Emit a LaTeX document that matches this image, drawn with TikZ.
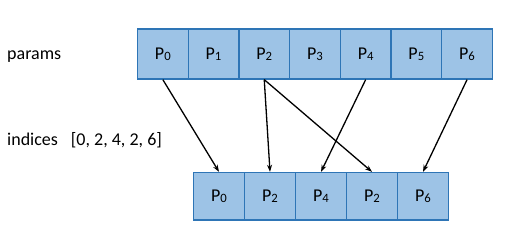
\documentclass[tikz,border=0pt]{standalone}
\usepackage{fontspec}
\setmainfont{Carlito}
\usetikzlibrary{arrows.meta}
\definecolor{cellfill}{HTML}{9DC3E6}
\definecolor{celledge}{HTML}{2E75B6}
\newcommand{\Pcell}[1]{P{\fontsize{12.7}{13}\selectfont\raisebox{-1.3pt}{#1}}}
\begin{document}
\begin{tikzpicture}[x=1pt,y=-1pt,
  cell/.style={draw=celledge,fill=cellfill,line width=1.3pt,inner sep=0pt,
    font=\fontsize{18}{21}\selectfont},
  topcell/.style={cell,minimum width=50.7pt,minimum height=50pt},
  botcell/.style={cell,minimum width=51pt,minimum height=47.5pt},
  lbl/.style={anchor=base west,inner sep=0pt,font=\fontsize{18}{21}\selectfont},
  link/.style={line width=1.3pt,-{Stealth[length=7pt,width=5pt]}}]
\useasboundingbox (0,0) rectangle (510,242);
\foreach \i in {0,...,6} {
  \node[topcell] (t\i) at ({137.5+25.35+50.7*\i},54) {\Pcell{\i}};
}
\foreach \v [count=\j from 0] in {0,2,4,2,6} {
  \node[botcell] (b\j) at ({193.5+25.5+51*\j},196.25) {\Pcell{\v}};
}
\node[lbl] (params) at (7,59) {params};
\node[lbl] (indices) at (7,145) {indices\hspace{13pt}[0, 2, 4, 2, 6]};
\draw[link] (t0.south) -- (b0.north);
\draw[link] (t2.south) -- (b1.north);
\draw[link] (t2.south) -- (b3.north);
\draw[link] (t4.south) -- (b2.north);
\draw[link] (t6.south) -- (b4.north);
\end{tikzpicture}
\end{document}
